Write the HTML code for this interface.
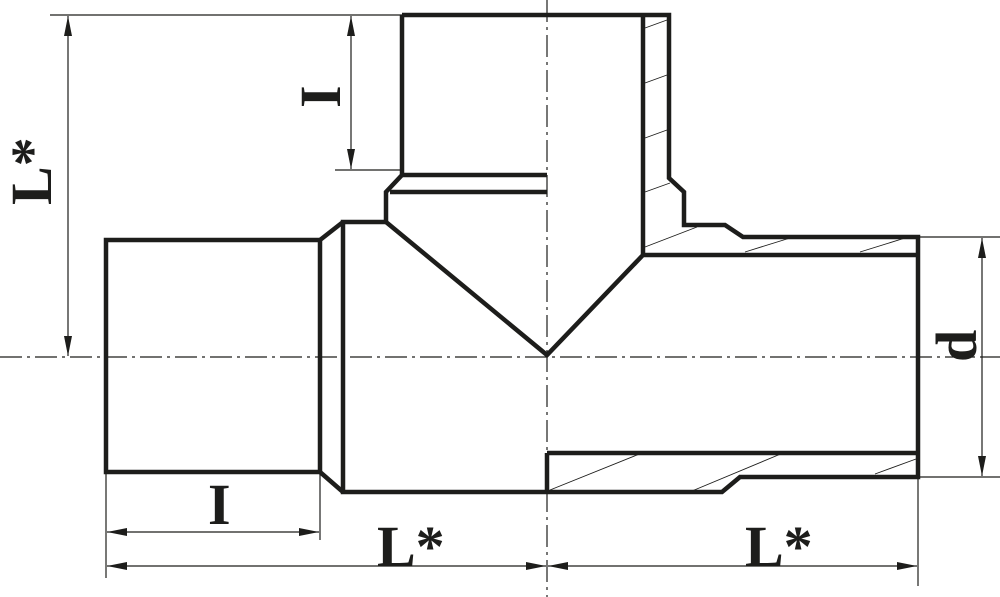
<!DOCTYPE html>
<html><head><meta charset="utf-8"><style>html,body{margin:0;padding:0;background:#fff}svg{display:block}</style></head>
<body>
<svg width="1000" height="597" viewBox="0 0 1000 597" xmlns="http://www.w3.org/2000/svg">
<defs>
<marker id="a" viewBox="0 0 20 8" refX="20" refY="4" markerWidth="20" markerHeight="8" markerUnits="userSpaceOnUse" orient="auto-start-reverse"><path d="M0,0 L20,4 L0,8 Z" fill="#1d1d1b"/></marker>
</defs>
<g stroke="#1d1d1b" stroke-width="1.2" fill="none">
<!-- centerlines -->
<line x1="0" y1="357" x2="1000" y2="357" stroke-dasharray="22,5,3,5"/>
<line x1="547" y1="0" x2="547" y2="597" stroke-dasharray="22,5,3,5"/>
<!-- hatch -->
<g stroke-width="0.9">
<line x1="645" y1="28" x2="667" y2="20"/>
<line x1="645" y1="83" x2="667" y2="75"/>
<line x1="645" y1="138" x2="667" y2="130"/>
<line x1="645" y1="192" x2="670" y2="183"/>
<line x1="645" y1="247" x2="697" y2="227"/>
<line x1="550" y1="490" x2="642" y2="453"/>
<line x1="692" y1="491" x2="783" y2="453"/>
<line x1="875" y1="474" x2="916" y2="459"/>
<line x1="745" y1="252" x2="790" y2="238"/>
<line x1="860" y1="252" x2="905" y2="238"/>
</g>
<!-- dimension lines -->
<line x1="50" y1="15" x2="402" y2="15"/>
<line x1="68" y1="16" x2="68" y2="356" marker-start="url(#a)" marker-end="url(#a)"/>
<line x1="335" y1="170" x2="402" y2="170"/>
<line x1="351" y1="16" x2="351" y2="169" marker-start="url(#a)" marker-end="url(#a)"/>
<line x1="918" y1="237" x2="1000" y2="237"/>
<line x1="918" y1="477" x2="1000" y2="477"/>
<line x1="982" y1="238" x2="982" y2="476" marker-start="url(#a)" marker-end="url(#a)"/>
<line x1="106" y1="472" x2="106" y2="578"/>
<line x1="320" y1="472" x2="320" y2="540"/>
<line x1="918" y1="477" x2="918" y2="586"/>
<line x1="107" y1="532" x2="319" y2="532" marker-start="url(#a)" marker-end="url(#a)"/>
<line x1="107" y1="566" x2="546" y2="566" marker-start="url(#a)" marker-end="url(#a)"/>
<line x1="548" y1="566" x2="917" y2="566" marker-start="url(#a)" marker-end="url(#a)"/>
</g>
<g stroke="#1d1d1b" stroke-width="4.5" fill="none" stroke-linejoin="miter">
<rect x="106" y="240" width="214" height="232"/>
<path d="M402,15 H669 V178 L684,192 V225 H725 L743,237 H918 V477 H740 L722,492 H343 V222 H386 V192 L402,175 V15"/>
<path d="M320,240 L343,222 M320,472 L343,492"/>
<path d="M402,175 H547 M390,192 H547"/>
<path d="M643,15 V255 H918 M386,222 L547,355 L643,255"/>
<path d="M547,453 H918 M547,453 V492"/>
</g>
<g font-family="Liberation Serif, serif" font-weight="bold" fill="#1d1d1b">
<text x="377" y="566" font-size="58">L*</text>
<text x="745" y="566" font-size="58">L*</text>
<text x="208" y="524" font-size="58">I</text>
<text transform="translate(51,205) rotate(-90)" font-size="58">L*</text>
<text transform="translate(340,108) rotate(-90)" font-size="58">I</text>
<text transform="translate(976,362) rotate(-90)" font-size="58">d</text>
</g>
</svg>
</body></html>
